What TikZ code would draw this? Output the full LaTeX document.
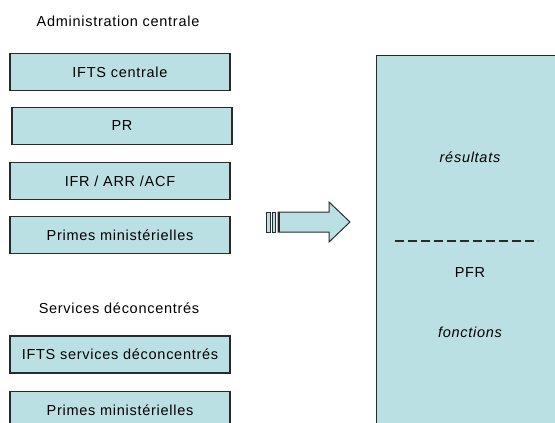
\documentclass[tikz,border=0pt]{standalone}
\usepackage{fontspec}
\setmainfont[LetterSpace=5]{Liberation Sans}
\definecolor{boxfill}{HTML}{BBE0E3}
\definecolor{edge}{HTML}{2A2A2A}
\begin{document}
\begin{tikzpicture}[x=1pt,y=-1pt,
  every node/.style={font=\fontsize{14.5}{16}\selectfont, text=black, inner sep=0pt},
  itembox/.style={rectangle, draw=edge, line width=1.3pt, fill=boxfill,
    minimum width=220pt, minimum height=37pt},
  heading/.style={},
  blockarrow/.style={draw=edge, line width=1pt, fill=boxfill, line join=miter},
  splitline/.style={draw=edge, line width=1.5pt, dash pattern=on 9pt off 4pt}]
  \useasboundingbox (0,0) rectangle (555,423);
  \clip (0,0) rectangle (555,423);

  % left column: central administration
  \node[heading] (hcentral) at (118,21) {Administration centrale};
  \node[itembox] (ifts)    at (120,72)  {IFTS centrale};
  \node[itembox] (pr)      at (122,126) {PR};
  \node[itembox] (ifr)     at (120,181) {IFR / ARR /ACF};
  \node[itembox] (primes)  at (120,235) {Primes ministérielles};

  % left column: decentralised services
  \node[heading] (hserv) at (119,308) {Services déconcentrés};
  \node[itembox] (iftsserv) at (120,354.5) {IFTS services déconcentrés};
  \node[itembox] (primesserv) at (120,410) {Primes ministérielles};

  % target block
  \node[rectangle, draw=edge, line width=1.3pt, fill=boxfill,
        minimum width=194pt, minimum height=385pt, anchor=north west]
        (pfrbox) at (376,55) {};
  \node (res) at (470,157) {\itshape résultats};
  \coordinate (dashL) at (395,241);
  \coordinate (dashR) at (538,241);
  \draw[splitline] (dashL) -- (dashR);
  \node (pfr) at (470,273) {PFR};
  \node (fonc) at (470,332) {\itshape fonctions};

  % striped block arrow
  \draw[blockarrow] (266,212) rectangle (270,232);
  \draw[blockarrow] (272,212) rectangle (275,232);
  \draw[blockarrow] (278,212) -- (329,212) -- (329,202) -- (350,222)
        -- (329,242) -- (329,232) -- (278,232) -- cycle;
  \draw[edge, line width=2pt] (279,212) -- (279,232);
\end{tikzpicture}
\end{document}
